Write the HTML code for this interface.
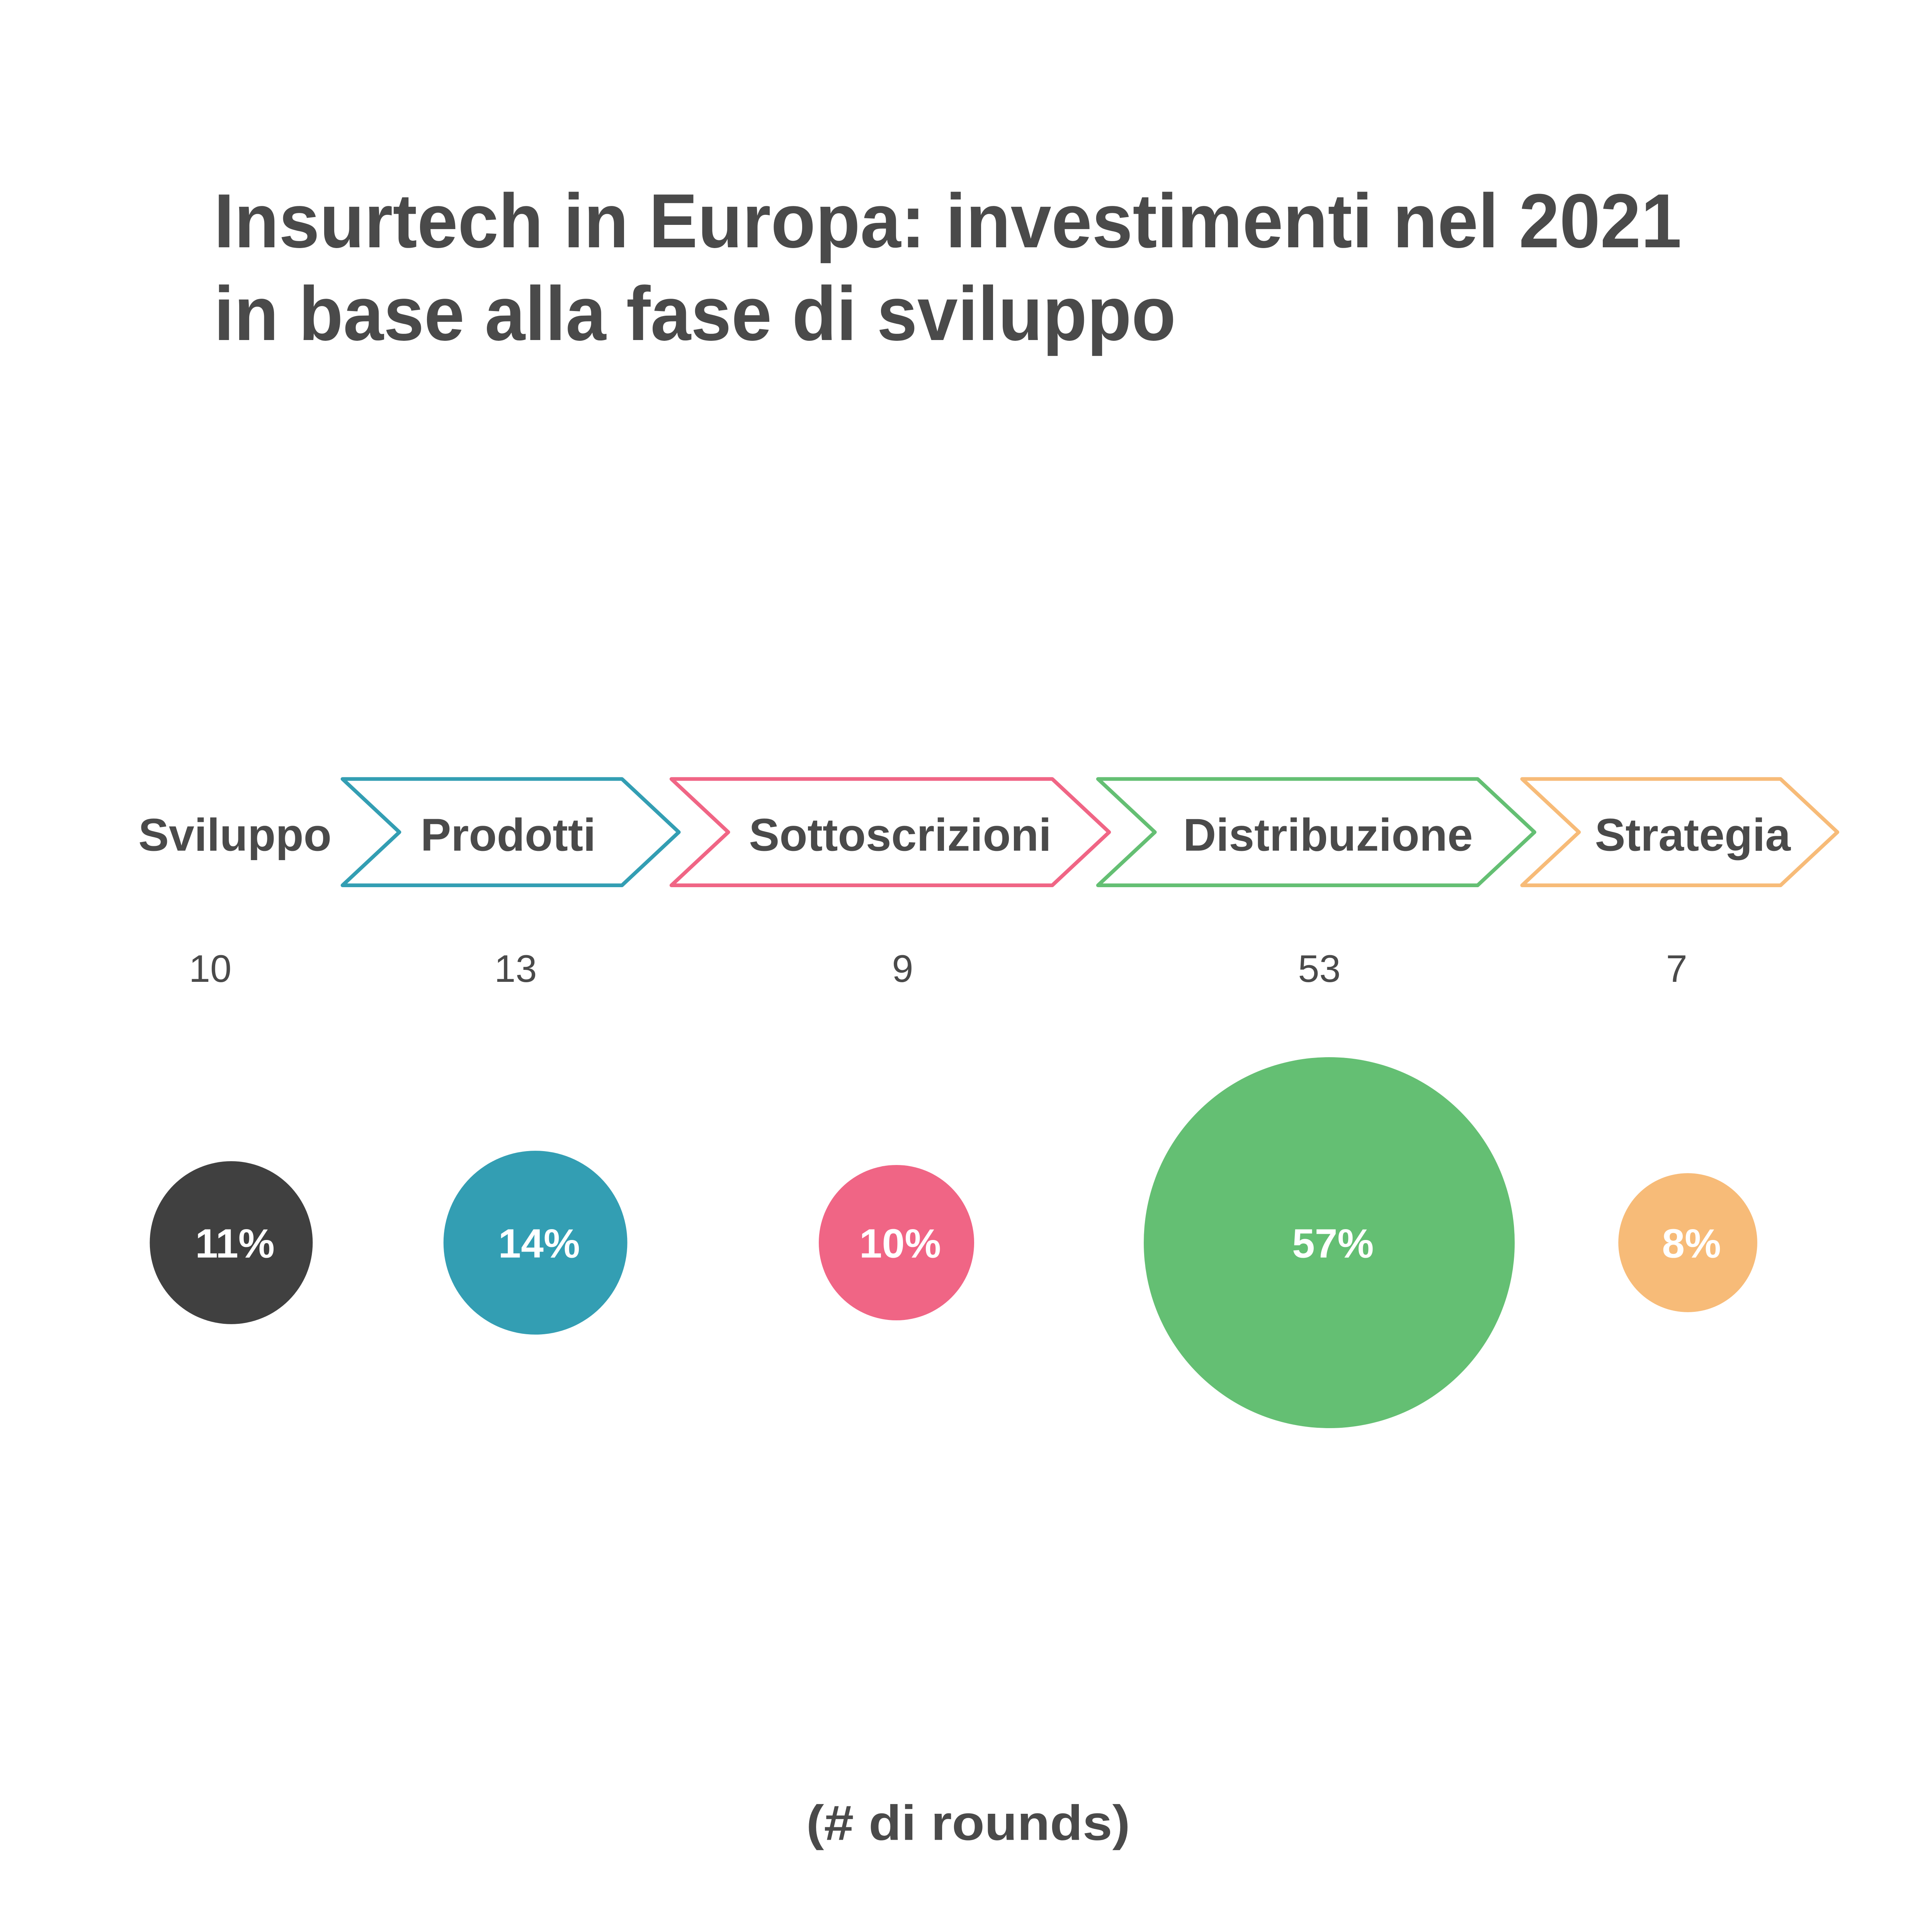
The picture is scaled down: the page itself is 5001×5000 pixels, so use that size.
<!DOCTYPE html>
<html><head><meta charset="utf-8"><style>html,body{margin:0;padding:0;background:#fff}svg{display:block}</style></head>
<body>
<svg width="5001" height="5000" viewBox="0 0 1562.8 1562.5" xmlns="http://www.w3.org/2000/svg" font-family="Liberation Sans, sans-serif">
<rect width="1562.8" height="1562.5" fill="#fff"/>
<text x="173" y="200" font-size="62" font-weight="bold" fill="#4a4a4a" textLength="1187" lengthAdjust="spacingAndGlyphs">Insurtech in Europa: investimenti nel 2021</text>
<text x="173" y="275" font-size="62" font-weight="bold" fill="#4a4a4a" textLength="778" lengthAdjust="spacingAndGlyphs">in base alla fase di sviluppo</text>
<g id="arrows"></g>
<g id="bubbles"></g>
<text x="783" y="1488" font-size="40" font-weight="bold" fill="#4a4a4a" text-anchor="middle" textLength="262" lengthAdjust="spacingAndGlyphs">(# di rounds)</text>
</svg>
<script>
const categories=["Sviluppo","Prodotti","Sottoscrizioni","Distribuzione","Strategia"];
const rounds=[10,13,9,53,7];
const shares=[11,14,10,57,8];
const colors=["#404040","#339eb3","#f06585","#64bf73","#f7bb78"];
const NS="http://www.w3.org/2000/svg";
const arrowsG=document.getElementById('arrows'),bubG=document.getElementById('bubbles');
// layout
const arrowBoxes=[null,[277,549],[543,897],[888,1241],[1231,1486]];
const labelX=[190,411,728,1074,1369];
const numX=[170,417,730,1067,1356];
const bubX=[187,433,725,1075,1365];
const maxR=150, maxV=Math.max(...shares);
function r(v){return maxR*Math.sqrt(v/maxV);}
function el(t,a){const e=document.createElementNS(NS,t);for(const k in a)e.setAttribute(k,a[k]);return e;}
categories.forEach((c,i)=>{
  const b=arrowBoxes[i];
  if(b){
    const [x0,x1]=b,y0=630,y1=716,ym=(y0+y1)/2,n=46;
    const p=el('path',{d:`M${x0},${y0} L${x1-n},${y0} L${x1},${ym} L${x1-n},${y1} L${x0},${y1} L${x0+n},${ym} Z`,fill:'none',stroke:colors[i],'stroke-width':3,'stroke-linejoin':'round'});
    
    
    arrowsG.appendChild(p);
  }
  const t=el('text',{x:labelX[i],y:688,'font-size':37,'font-weight':'bold',fill:'#4a4a4a','text-anchor':'middle'});
  t.textContent=c;
  
  
  arrowsG.appendChild(t);
  const nt=el('text',{x:numX[i],y:794,'font-size':31,fill:'#4a4a4a','text-anchor':'middle'});
  nt.textContent=rounds[i];
  
  
  arrowsG.appendChild(nt);
  const ci=el('circle',{cx:bubX[i],cy:1005,r:r(shares[i]),fill:colors[i]});
  
  
  bubG.appendChild(ci);
  const pt=el('text',{x:bubX[i]+3,y:1017,'font-size':33,'font-weight':'bold',fill:'#fff','text-anchor':'middle'});
  pt.textContent=shares[i]+'%';
  
  
  bubG.appendChild(pt);
});
</script>
</body></html>
